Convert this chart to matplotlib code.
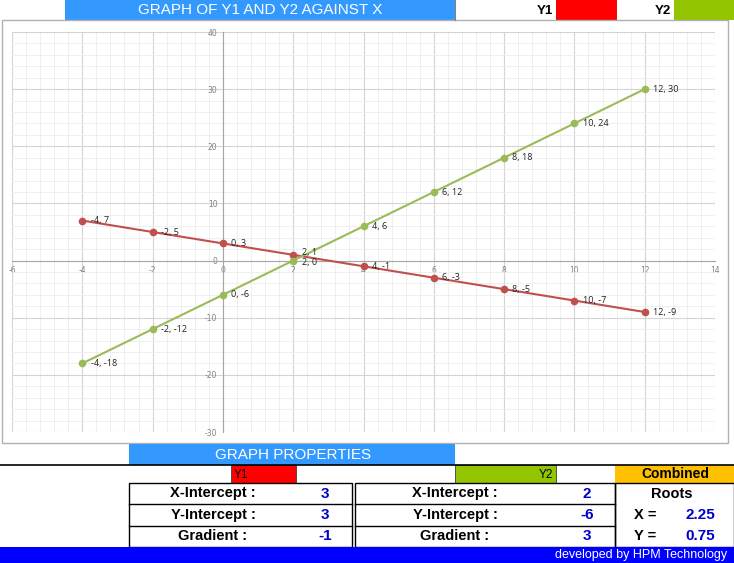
import numpy as np
import matplotlib.pyplot as plt
from matplotlib.patches import Rectangle
from matplotlib.ticker import MultipleLocator

plt.rcParams['axes.unicode_minus'] = False

# ── data ──────────────────────────────────────────────────────────────────────
x_vals = [-4, -2, 0, 2, 4, 6, 8, 10, 12]
y1_vals = [7, 5, 3, 1, -1, -3, -5, -7, -9]
y2_vals = [-18, -12, -6, 0, 6, 12, 18, 24, 30]

y1_props = [("X-Intercept :", "3"), ("Y-Intercept :", "3"), ("Gradient :", "-1")]
y2_props = [("X-Intercept :", "2"), ("Y-Intercept :", "-6"), ("Gradient :", "3")]
roots = [("X =", "2.25"), ("Y =", "0.75")]

RED, GREEN = '#C0504D', '#9BBB59'
NARROW = ['Liberation Sans', 'DejaVu Sans']

W, H = 734, 563
fig = plt.figure(figsize=(W / 100, H / 100), dpi=100)

# ── sheet background (pixel coords) ──────────────────────────────────────────
bg = fig.add_axes([0, 0, 1, 1])
bg.set_xlim(0, W); bg.set_ylim(H, 0); bg.axis('off')

def box(x0, y0, x1, y1, fc='none', ec='none', lw=1.0, z=1):
    bg.add_patch(Rectangle((x0, y0), x1 - x0, y1 - y0, fc=fc, ec=ec, lw=lw, zorder=z))

def txt(x, y, s, **kw):
    kw.setdefault('family', NARROW)
    bg.text(x, y, s, va='center', **kw)

# header
box(65, 0, 455, 20, fc='#3399FF')
txt(260, 10, 'GRAPH OF Y1 AND Y2 AGAINST X', ha='center', color='white', fontsize=11)
bg.plot([455, 455], [0, 20], color='#808080', lw=0.8)
txt(553, 11, 'Y1', ha='right', fontsize=9.5, fontweight='bold')
box(556, 0, 617, 20, fc='#FF0000')
txt(671, 11, 'Y2', ha='right', fontsize=9.5, fontweight='bold')
box(674, 0, 734, 20, fc='#92C400')

# chart area border
box(2, 20, 728, 443, ec='#B0B0B0', lw=1.0)

# properties header
box(129, 444, 455, 465, fc='#3399FF')
txt(293, 455, 'GRAPH PROPERTIES', ha='center', color='white', fontsize=11)
bg.plot([0, W], [465, 465], color='black', lw=1.2, zorder=3)
box(231, 465, 296, 483, fc='#FF0000', ec='#404040', lw=0.6)
txt(241, 474.5, 'Y1', ha='center', fontsize=8.5)
box(455, 465, 556, 483, fc='#92C400', ec='#404040', lw=0.6)
txt(546, 474.5, 'Y2', ha='center', fontsize=8.5)
box(615, 465, 734, 483, fc='#FFC000')
txt(675, 474.5, 'Combined', ha='center', fontsize=10, fontweight='bold')

# property tables
rows_y = [483, 504, 526, 547]
for (x0, x1, props, lx, vx) in [(129, 352, y1_props, 213, 325),
                               (355, 615, y2_props, 455, 587)]:
    box(x0, 483, x1, 547, ec='black', lw=1.0, z=3)
    for i, (lab, val) in enumerate(props):
        if i > 0:
            bg.plot([x0, x1], [rows_y[i], rows_y[i]], color='black', lw=1.0, zorder=3)
        yc = (rows_y[i] + rows_y[i + 1]) / 2
        txt(lx, yc, lab, ha='center', fontsize=10.5, fontweight='bold')
        txt(vx, yc, val, ha='center', fontsize=11, fontweight='bold', color='#0000CC')
box(615, 483, 734, 547, ec='black', lw=1.0, z=3)
txt(672, 494, 'Roots', ha='center', fontsize=10.5, fontweight='bold')
for i, (lab, val) in enumerate(roots):
    yc = (rows_y[i + 1] + rows_y[i + 2]) / 2
    txt(645, yc, lab, ha='center', fontsize=10.5, fontweight='bold')
    txt(700, yc, val, ha='center', fontsize=11, fontweight='bold', color='#0000CC')

# footer
box(0, 547, 734, 563, fc='#0000FF', z=4)
txt(727, 555, 'developed by HPM Technology', ha='right', color='white', fontsize=9, zorder=5)

# ── chart ────────────────────────────────────────────────────────────────────
px0, px1, py0, py1 = 12, 715, 32, 432
ax = fig.add_axes([px0 / W, 1 - py1 / H, (px1 - px0) / W, (py1 - py0) / H])
ax.set_xlim(-6, 14); ax.set_ylim(-30, 40)
ax.xaxis.set_major_locator(MultipleLocator(2))
ax.xaxis.set_minor_locator(MultipleLocator(0.4))
ax.yaxis.set_major_locator(MultipleLocator(10))
ax.yaxis.set_minor_locator(MultipleLocator(2))
ax.grid(which='major', color='#D4D4D4', lw=0.8)
ax.grid(which='minor', color='#EDEDED', lw=0.6)
ax.set_axisbelow(True)
for s in ['top', 'right']:
    ax.spines[s].set_visible(False)
ax.spines['left'].set_position(('data', 0))
ax.spines['bottom'].set_position(('data', 0))
ax.spines['left'].set_color('#A6A6A6')
ax.spines['bottom'].set_color('#A6A6A6')
ax.tick_params(which='both', length=0, labelsize=5.5, labelcolor='#808080', pad=4)
ax.set_facecolor('none')

ax.plot(x_vals, y1_vals, '-o', color=RED, lw=1.5, ms=4.5, zorder=5)
ax.plot(x_vals, y2_vals, '-o', color=GREEN, lw=1.5, ms=4.5, zorder=5)
for xs, ys, dy in [(x_vals, y1_vals, 1.5), (x_vals, y2_vals, -1.5)]:
    for xv, yv in zip(xs, ys):
        # only the crowded crossing point gets a nudge
        off = dy if xv == 2 else 0
        ax.annotate(f'{xv}, {yv}', (xv, yv), xytext=(6, off), textcoords='offset points',
                    va='center', fontsize=6.5, color='#202020', zorder=6,
                    family=['Open Sans', 'DejaVu Sans'])

fig.savefig('out.png', dpi=100)
